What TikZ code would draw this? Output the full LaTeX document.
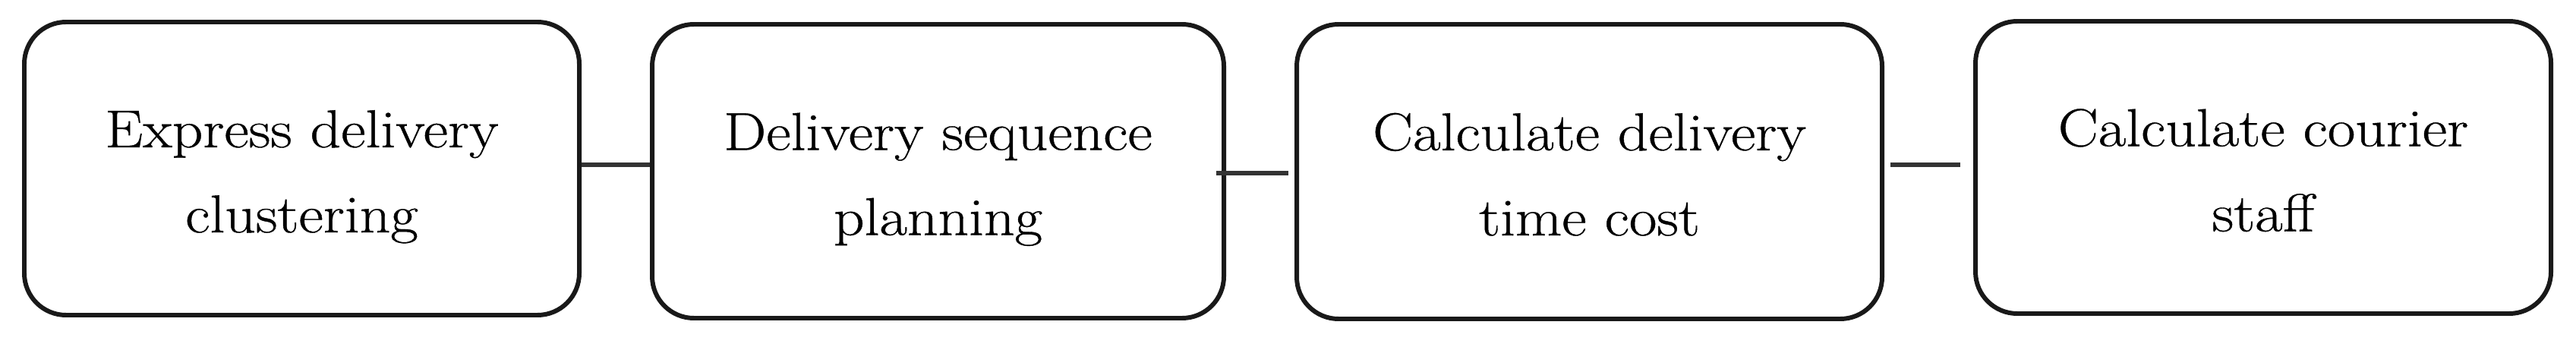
\documentclass[tikz,border=0pt]{standalone}
\usepackage{fontspec}
\setmainfont{Latin Modern Roman}[FakeStretch=1.13, FakeBold=0.6]
\usepackage{tikz}
\tikzset{
  stepbox/.style={draw=black!90, line width=1.7pt, rounded corners=0.55cm,
    align=center, inner sep=0pt, font=\fontsize{20}{31.9}\selectfont},
  link/.style={draw=black!80, line width=1.7pt}
}
\newcommand{\topstrut}{\rule{0pt}{0.71cm}}
\newcommand{\botstrut}{\rule[-0.15cm]{0pt}{0.15cm}}
\begin{document}
\begin{tikzpicture}
\useasboundingbox (0,0) rectangle (33.93,4.56);
\node[stepbox, minimum width=7.31cm, minimum height=3.86cm] (b1) at (3.975,2.34)
  {\topstrut Express delivery\\ clustering\botstrut};
\node[stepbox, minimum width=7.53cm, minimum height=3.87cm] (b2) at (12.355,2.305)
  {\topstrut Delivery sequence\\ planning\botstrut};
\node[stepbox, minimum width=7.71cm, minimum height=3.88cm] (b3) at (20.935,2.30)
  {\topstrut Calculate delivery\\ time cost\botstrut};
\node[stepbox, minimum width=7.58cm, minimum height=3.85cm] (b4) at (29.81,2.355)
  {\topstrut Calculate courier\\ staff\botstrut};
\coordinate (c12) at ([yshift=0.05cm]b1.east);
\coordinate (c23) at ([xshift=-0.13cm,yshift=-0.025cm]b2.east);
\coordinate (c34) at ([xshift=0.08cm,yshift=0.09cm]b3.east);
\coordinate (e34) at ([xshift=-0.17cm]c34 -| b4.west);
\draw[link] (c12) -- (c12 -| b2.west);
\draw[link] (c23) -- ([xshift=-0.08cm]c23 -| b3.west);
\draw[link] (c34) -- (e34);
\end{tikzpicture}
\end{document}
